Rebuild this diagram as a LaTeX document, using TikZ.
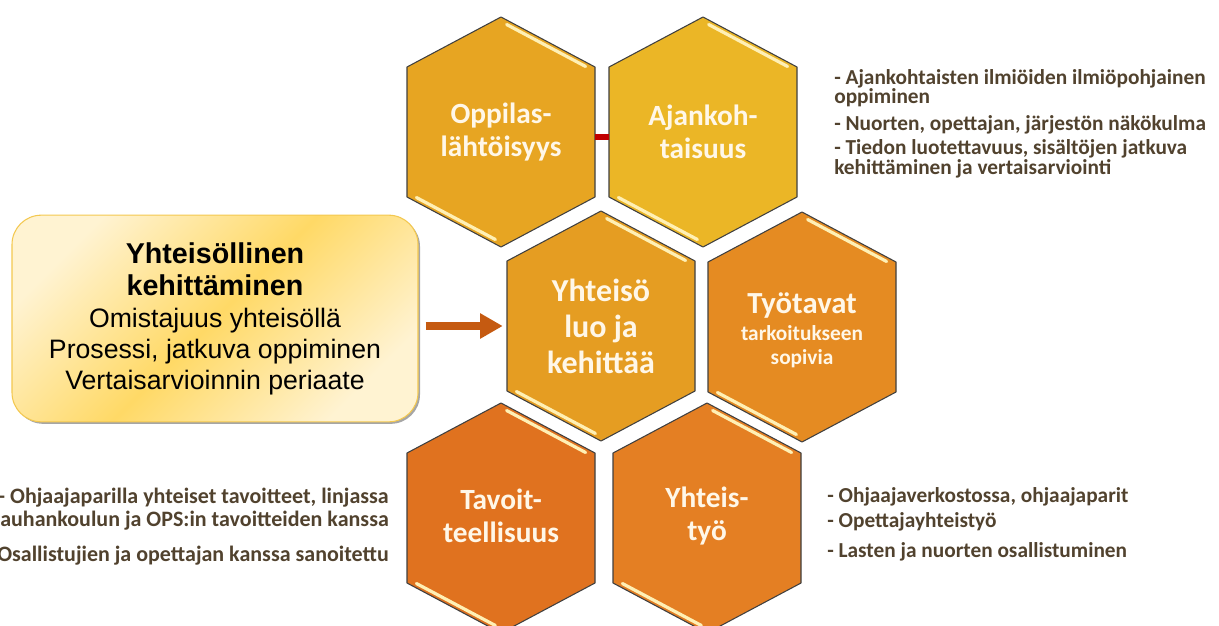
\documentclass[tikz,border=0pt]{standalone}
\usepackage{fontspec}
\setmainfont{Carlito}
\newfontfamily\arialfont{Liberation Sans}
\usetikzlibrary{arrows.meta,shadows}
\definecolor{hexgold}{HTML}{E7A522}
\definecolor{hexyellow}{HTML}{EBB626}
\definecolor{hexamber}{HTML}{E59D22}
\definecolor{hexorange}{HTML}{E58B22}
\definecolor{hexdeep}{HTML}{E0721F}
\definecolor{hexcarrot}{HTML}{E47F23}
\definecolor{hexedge}{HTML}{404040}
\definecolor{glowcream}{HTML}{FFF0B5}
\definecolor{hexink}{HTML}{FFF7E8}
\definecolor{noteink}{HTML}{51422E}
\definecolor{boxgold}{HTML}{FFD966}
\definecolor{boxcream}{HTML}{FFF3D2}
\definecolor{boxline}{HTML}{F3C850}
\definecolor{arrowrust}{HTML}{C55A11}
\definecolor{linkred}{HTML}{C00000}

\begin{document}
\begin{tikzpicture}[
    x=0.75pt, y=-0.75pt,
    hexface/.style={fill=#1, draw=hexedge, line width=0.8pt, line join=round},
    hexglow/.style={draw=glowcream, line width=2.4pt, line cap=round},
    hextext/.style={text=hexink, align=center, inner sep=0pt, minimum width=141pt, font=\bfseries\fontsize{22}{24.75}\selectfont},
    notes/.style={text=noteink, align=left, inner sep=0pt, font=\bfseries\fontsize{16}{14.5}\selectfont},
    infobox/.style={rounded corners=22pt, minimum width=304.5pt, minimum height=155pt, draw=boxline, line width=0.8pt,
        top color=boxcream, bottom color=boxcream, middle color=boxgold, shading angle=45,
        drop shadow={shadow xshift=1.5pt, shadow yshift=-1.5pt, fill=black, opacity=0.35},
        align=center, font=\arialfont\fontsize{20}{23}\selectfont},
    flowarrow/.style={-{Triangle[length=17pt, width=18pt]}, line width=6pt, draw=arrowrust},
    redlink/.style={draw=linkred, line width=4.5pt},
]
\useasboundingbox (0,0) rectangle (1219,625);
\clip (0,0) rectangle (1219,625);

\foreach \cx/\cy/\fc in {501/132/hexgold, 703/132/hexyellow, 601/326/hexamber, 802/327/hexorange, 501/518/hexdeep, 707/518/hexcarrot}{
  \draw[hexface=\fc] (\cx,\cy-115) -- (\cx+94,\cy-65) -- (\cx+94,\cy+65) -- (\cx,\cy+115) -- (\cx-94,\cy+65) -- (\cx-94,\cy-65) -- cycle;
  \draw[hexglow] (\cx+5.6,\cy-107.5) -- (\cx+84.6,\cy-65.5);
  \draw[hexglow] (\cx-84.6,\cy+65.5) -- (\cx-5.6,\cy+107.5);
}

\node[hextext] (opp) at (501,132) {Oppilas-\\lähtöisyys};
\node[hextext] (ajk) at (703,132) {Ajankoh-\\taisuus};
\node[hextext, font=\bfseries\fontsize{24}{27}\selectfont] (yht) at (601,326) {Yhteisö\\luo ja\\kehittää};
\node[hextext, font=\bfseries\fontsize{16}{18}\selectfont] (tyo) at (802,330) {{\fontsize{23}{26}\selectfont Työtavat}\\[2pt]tarkoitukseen\\sopivia};
\node[hextext] (tav) at (501,516) {Tavoit-\\teellisuus};
\node[hextext] (yhs) at (707,516) {Yhteis-\\työ};

\node[infobox] (box) at (215,318.5) {{\bfseries\fontsize{21.5}{24.75}\selectfont Yhteisöllinen}\\[1.5pt]{\bfseries\fontsize{21.5}{24.75}\selectfont kehittäminen}\\[1pt]Omistajuus yhteisöllä\\Prosessi, jatkuva oppiminen\\Vertaisarvioinnin periaate};

\node[notes, anchor=north west] (ajknotes) at (834,69) {- Ajankohtaisten ilmiöiden ilmiöpohjainen\\oppiminen\\[5.5pt]- Nuorten, opettajan, järjestön näkökulma\\[4pt]- Tiedon luotettavuus, sisältöjen jatkuva\\kehittäminen ja vertaisarviointi};
\node[notes, align=right, anchor=north east, font=\bfseries\fontsize{16.5}{17.25}\selectfont] (tavnotes) at (389,488) {- Ohjaajaparilla yhteiset tavoitteet, linjassa\\Rauhankoulun ja OPS:in tavoitteiden kanssa\\[9pt]- Osallistujien ja opettajan kanssa sanoitettu};
\node[notes, anchor=north west, font=\bfseries\fontsize{16}{18.75}\selectfont] (yhsnotes) at (827,487) {- Ohjaajaverkostossa, ohjaajaparit\\- Opettajayhteistyö\\[3.75pt]- Lasten ja nuorten osallistuminen};

\draw[redlink] ([yshift=-3.75pt]opp.east) -- ([yshift=-3.75pt]ajk.west);
\draw[flowarrow, shorten <=5.25pt, shorten >=3pt] (box.east |- yht.west) -- (yht.west);
\end{tikzpicture}
\end{document}
